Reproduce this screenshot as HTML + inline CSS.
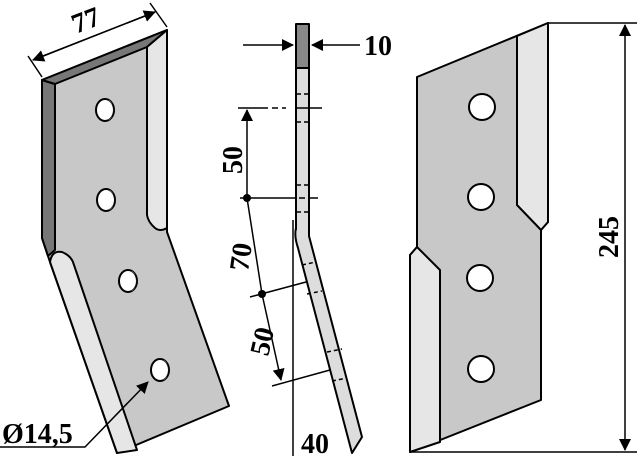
<!DOCTYPE html>
<html><head><style>body{margin:0;background:#fff}svg{display:block}</style></head><body>
<svg width="637" height="456" viewBox="0 0 637 456" xmlns="http://www.w3.org/2000/svg" font-family="Liberation Serif, serif" font-weight="bold">
<defs><marker id="a" markerWidth="12" markerHeight="12" refX="11" refY="6" orient="auto" markerUnits="userSpaceOnUse"><path d="M0,0 L12,6 L0,12z" fill="#000"/></marker></defs>
<g stroke="#000" stroke-width="2" stroke-linejoin="round">
<path d="M42,80 L167,30 L167,232 L229,406 L117,453 L50,262 L42,238 Z" fill="#c8c8c8"/>
<path d="M42,80 L55,84 L55,250 L48,256 L42,238 Z" fill="#777"/>
<path d="M42,80 L167,30 L147,47 L55,84 Z" fill="#777"/>
<path d="M147,47 L167,30 L167,228 Q160,232 155,228 Q148,222 147,215 Z" fill="#e6e6e6"/>
<path d="M50,262 Q52,250 62,252 Q72,256 74,265 L137,450 L117,453 Z" fill="#e6e6e6"/>
<g fill="#fff">
<ellipse cx="105" cy="110" rx="9" ry="11"/><ellipse cx="106" cy="200" rx="9" ry="11"/><ellipse cx="128" cy="281" rx="9" ry="11"/><ellipse cx="160" cy="370" rx="9" ry="11"/></g>
<g fill="#777" stroke="none"><path d="M108,100 A9,11 0 0 1 108,120 A5,10 0 0 0 108,100z"/><path d="M109,190 A9,11 0 0 1 109,210 A5,10 0 0 0 109,190z"/><path d="M131,271 A9,11 0 0 1 131,291 A5,10 0 0 0 131,271z"/><path d="M163,360 A9,11 0 0 1 163,380 A5,10 0 0 0 163,360z"/></g>
<line x1="28" y1="56" x2="42" y2="77" stroke-width="1.5"/><line x1="150" y1="3" x2="167" y2="27" stroke-width="1.5"/>
<line x1="33" y1="60" x2="155" y2="12" stroke-width="1.5" marker-end="url(#a)"/><line x1="155" y1="12" x2="33" y2="60" stroke-width="1.5" marker-end="url(#a)"/>
<polyline points="0,447 85,447 148,382" fill="none" stroke-width="1.5" marker-end="url(#a)"/>
<rect x="296" y="24" width="13" height="44" fill="#888"/>
<path d="M296,68 L309,68 L309,236 L362,437 L352,453 L298,248 Q294,236 296,228 Z" fill="#ddd"/>
<line x1="296" y1="230" x2="296" y2="68" /><line x1="293" y1="220" x2="293" y2="456" stroke-width="1.5"/>
<line x1="243" y1="45" x2="293" y2="45" stroke-width="1.5" marker-end="url(#a)"/><line x1="360" y1="45" x2="312" y2="45" stroke-width="1.5" marker-end="url(#a)"/>
<g stroke-width="1.5"><line x1="238" y1="108" x2="322" y2="108" stroke-dasharray="30,4,6,4,4,10"/><line x1="247" y1="198" x2="247" y2="110" marker-end="url(#a)"/>
<line x1="240" y1="198" x2="318" y2="198" stroke-dasharray="55,4,6,4"/><line x1="247" y1="198" x2="262" y2="294"/>
<line x1="250" y1="297" x2="306" y2="282"/><line x1="262" y1="294" x2="281" y2="380" marker-end="url(#a)"/><line x1="272" y1="386" x2="330" y2="370"/></g>
<g stroke-width="1.5" stroke-dasharray="4,3"><line x1="297" y1="94" x2="309" y2="94"/><line x1="297" y1="122" x2="309" y2="122"/><line x1="297" y1="185" x2="309" y2="185"/><line x1="297" y1="212" x2="309" y2="212"/><line x1="302" y1="265" x2="316" y2="262"/><line x1="307" y1="294" x2="322" y2="291"/><line x1="327" y1="352" x2="342" y2="349"/><line x1="332" y1="381" x2="347" y2="378"/></g>
<path d="M417,77 L548,23 L548,222 L541,230 L541,400 L410,452 L410,255 L417,247 Z" fill="#c8c8c8"/>
<path d="M517,36 L548,23 L548,222 L541,230 L517,205 Z" fill="#e6e6e6"/>
<path d="M410,255 L417,247 L440,270 L440,442 L410,452 Z" fill="#e6e6e6"/>
<g fill="#fff"><circle cx="482" cy="107" r="13"/><circle cx="481" cy="197" r="13"/><circle cx="480" cy="278" r="13"/><circle cx="481" cy="369" r="13"/></g>
<g stroke-width="1.5"><line x1="548" y1="23" x2="637" y2="23"/><line x1="410" y1="452" x2="637" y2="452"/><line x1="625" y1="238" x2="625" y2="25" marker-end="url(#a)"/><line x1="625" y1="238" x2="625" y2="450" marker-end="url(#a)"/></g>
</g>
<circle cx="247" cy="198" r="4"/><circle cx="262" cy="294" r="4"/>
<g font-size="28"><text x="72" y="28" transform="rotate(-21 90 20)">77</text>
<text x="2" y="443">Ø14,5</text><text x="364" y="55">10</text><text x="301" y="453">40</text>
<text transform="translate(242,174) rotate(-90)">50</text><text transform="translate(248,272) rotate(-82)">70</text><text transform="translate(268,357) rotate(-77)">50</text>
<text transform="translate(618,258) rotate(-90)">245</text></g>
</svg>
</body></html>
